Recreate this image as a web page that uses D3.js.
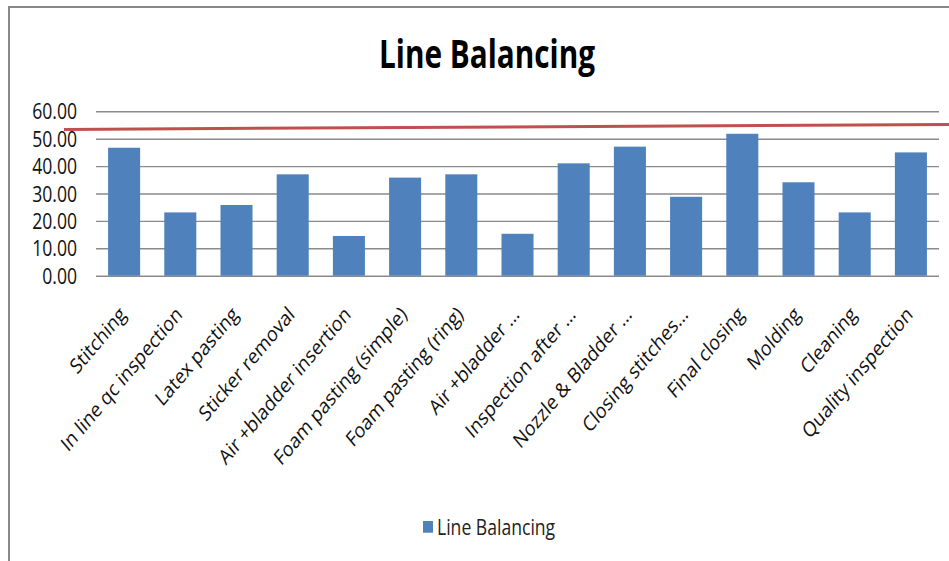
<!DOCTYPE html>
<html>
<head>
<meta charset="utf-8">
<script src="https://cdn.jsdelivr.net/npm/d3@7"></script>
<style>
  body { margin: 0; background: #fff; }
  svg { display: block; font-family: "Open Sans", sans-serif; }
</style>
</head>
<body>
<script>
// Chart data
const processes = [
    "Stitching", "In line qc inspection", "Latex pasting", "Sticker removal",
    "Air +bladder insertion", "Foam pasting (simple)", "Foam pasting (ring)",
    "Air +bladder …", "Inspection after …", "Nozzle & Bladder …",
    "Closing stitches…", "Final closing", "Molding", "Cleaning", "Quality inspection"
];
const lineBalancing = [46.7, 23.1, 25.8, 37.0, 14.5, 35.8, 37.0, 15.3, 41.0, 47.1, 28.8, 51.8, 34.1, 23.1, 45.0];
const yTicks = [0, 10, 20, 30, 40, 50, 60];
const taktLine = [53.4, 55.2];   // hand drawn red line, start and end value
const seriesName = "Line Balancing";
const chartTitle = "Line Balancing";

// Set up dimensions
const width = 949, height = 561;
const stretch = 1.19;   // the picture is a bit taller than wide
const plot = { left: 96, right: 939, top: 111.3, bottom: 275.7 };

const svg = d3.select("body").append("svg")
    .attr("width", width)
    .attr("height", height);

svg.append("rect").attr("width", width).attr("height", height).attr("fill", "#fff");

// Frame: only top and left edges show
svg.append("path")
    .attr("d", `M9,${height} V7 H${width}`)
    .attr("fill", "none")
    .attr("stroke", "#888")
    .attr("stroke-width", 2);

// Scales
const x = d3.scaleBand()
    .domain(processes)
    .range([plot.left, plot.right])
    .paddingInner(0.43)
    .paddingOuter(0.215);

const y = d3.scaleLinear()
    .domain([0, 60])
    .range([plot.bottom, plot.top]);

// Title
svg.append("text")
    .attr("transform", `translate(487,67.7) scale(1,${stretch})`)
    .attr("text-anchor", "middle")
    .attr("font-size", 32.6)
    .attr("font-weight", "bold")
    .attr("textLength", 216)
    .attr("lengthAdjust", "spacingAndGlyphs")
    .attr("fill", "#000")
    .text(chartTitle);

// Y axis with gridlines
const yAxis = svg.append("g")
    .attr("transform", `translate(${plot.left},0)`)
    .call(d3.axisLeft(y)
        .tickValues(yTicks)
        .tickFormat(d3.format(".2f"))
        .tickSize(-(plot.right - plot.left))
        .tickPadding(19));

yAxis.select(".domain").remove();
yAxis.selectAll(".tick line")
    .attr("stroke", "#8a8a8a")
    .attr("stroke-width", 1.4);
yAxis.selectAll(".tick text")
    .attr("font-size", 17.6)
    .attr("font-family", "Open Sans, sans-serif")
    .attr("fill", "#111")
    .attr("dy", "0.36em")
    .attr("transform", `scale(1,${stretch})`);

// Bars
svg.append("g")
    .selectAll("rect")
    .data(lineBalancing)
    .enter()
    .append("rect")
    .attr("x", (d, i) => x(processes[i]))
    .attr("y", d => y(d))
    .attr("width", x.bandwidth())
    .attr("height", d => y(0) - y(d))
    .attr("fill", "#4f81bd");

// X axis labels (rotated)
const xAxis = svg.append("g")
    .attr("transform", `translate(0,${plot.bottom})`)
    .call(d3.axisBottom(x).tickSize(0));

xAxis.select(".domain").remove();
xAxis.selectAll(".tick text")
    .attr("y", null)
    .attr("dy", null)
    .attr("font-size", 17.6)
    .attr("font-family", "Open Sans, sans-serif")
    .attr("fill", "#111")
    .attr("text-anchor", "end")
    .attr("transform", `translate(3,40) scale(1,${stretch}) rotate(-45)`);

// Red takt line, drawn across the chart
svg.append("line")
    .attr("x1", plot.left - 32)
    .attr("x2", width)
    .attr("y1", y(taktLine[0]))
    .attr("y2", y(taktLine[1]))
    .attr("stroke", "#c0504d")
    .attr("stroke-width", 3);

// Legend
const legend = svg.append("g").attr("transform", "translate(423,521)");
legend.append("rect")
    .attr("width", 10)
    .attr("height", 11.7)
    .attr("fill", "#4f81bd");
legend.append("text")
    .attr("transform", `translate(14,14) scale(1,${stretch})`)
    .attr("font-size", 17.6)
    .attr("fill", "#222")
    .text(seriesName);
</script>
</body>
</html>
